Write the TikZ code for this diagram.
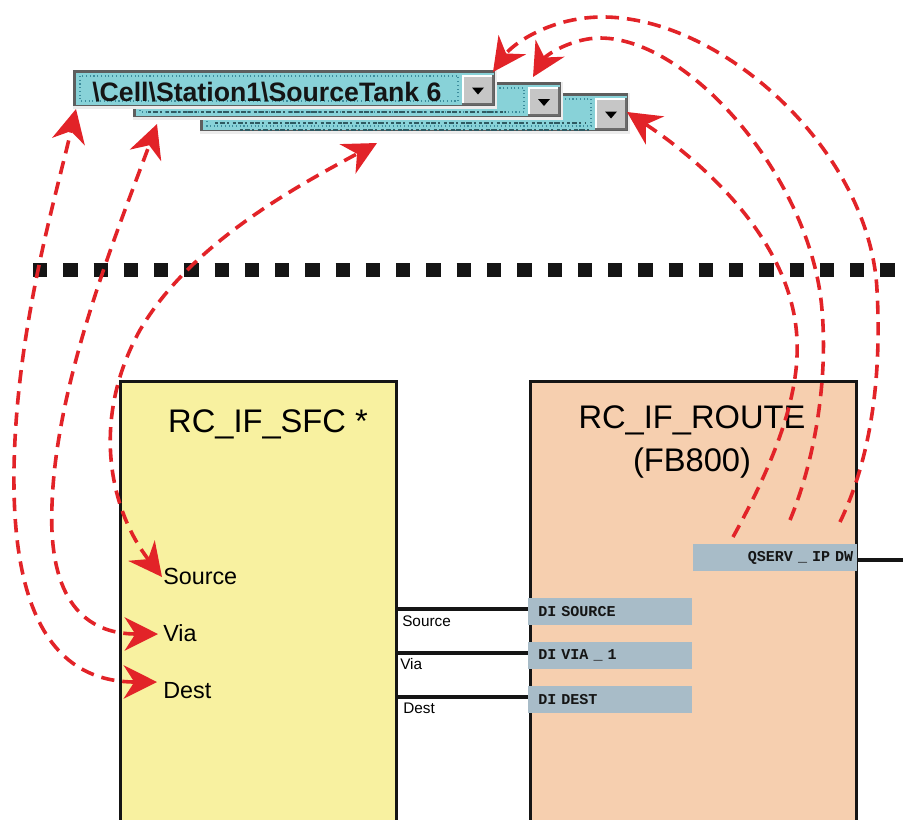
\documentclass[tikz,border=0pt]{standalone}
\usepackage{fontspec}
\setmainfont{Liberation Sans}
\newfontfamily\portfont{Liberation Mono}
\usetikzlibrary{arrows.meta}

\definecolor{linkred}{HTML}{E22328}
\definecolor{sfcfill}{HTML}{F8F1A0}
\definecolor{routefill}{HTML}{F6CFAF}
\definecolor{portblue}{HTML}{A8BCC8}
\definecolor{cyanfill}{HTML}{88D2D8}
\definecolor{bevdark}{HTML}{5E5E5E}
\definecolor{bevlight}{HTML}{ECECEC}
\definecolor{btnface}{HTML}{C6C6C6}
\definecolor{btnshade}{HTML}{6A6A6A}
\definecolor{focusblue}{HTML}{3C8C9C}
\definecolor{fragink}{HTML}{2F5A62}
\definecolor{inkblack}{HTML}{151515}

\tikzset{
  redhead/.tip={Stealth[length=25pt,width=25pt,inset=8pt]},
  link/.style={draw=linkred, line width=2.7pt, dash pattern=on 10pt off 6pt},
  fbbox/.style={draw=inkblack, line width=2.3pt, inner sep=0pt, anchor=north west},
  wire/.style={draw=inkblack, line width=3pt},
  portbox/.style={fill=portblue, inner ysep=0pt, minimum height=20.25pt,
    font=\portfont\bfseries\fontsize{11.3}{12}\selectfont, text=inkblack},
  bigtitle/.style={font=\fontsize{24.5}{28}\selectfont, anchor=base, inner sep=0pt},
  pinlabel/.style={font=\fontsize{17.5}{20}\selectfont, anchor=base west, inner sep=0pt},
  wirelabel/.style={font=\fontsize{11.5}{13}\selectfont, anchor=base west, inner sep=0pt},
  sepline/.style={draw=inkblack, line width=9.9pt, dash pattern=on 10.7pt off 12pt},
  frag/.style={draw=fragink, line width=1.6pt, dash pattern=on 2.5pt off 1.2pt on 4pt off 1.5pt on 1.5pt off 2.5pt},
}

% drop-down list box: left, top, right, bottom (in pixel units)
\newcommand\ddbox[4]{%
  \fill[bevlight] (#1,#2) rectangle (#3,#4);
  \fill[bevdark] (#1,#2) rectangle (#3-2,#4-3);
  \fill[cyanfill] (#1+3,#2+3) rectangle (#3-3,#4-4);
  \draw[focusblue, line width=0.8pt, dotted] (#1+7,#2+6) rectangle (#3-39,#4-8);
  \fill[btnshade] (#3-35,#2+5) rectangle (#3-3,#4-4);
  \fill[white] (#3-35,#2+5) rectangle (#3-5,#4-6);
  \fill[btnface] (#3-33,#2+7) rectangle (#3-5,#4-6);
  \fill[black] (#3-25,{(#2+#4)/2-2}) -- (#3-13,{(#2+#4)/2-2}) -- (#3-19,{(#2+#4)/2+5}) -- cycle;
}

\begin{document}
\begin{tikzpicture}[x=0.75pt,y=-0.75pt]
\useasboundingbox (0,0) rectangle (903,819);

% ---- stacked drop-down boxes (back to front) ----
\ddbox{200}{93}{630}{134}
\draw[frag] (215,123) -- (585,123);
\draw[frag] (240,130) -- (590,130);
\ddbox{133}{82}{563}{120}
\draw[frag] (148,112) -- (505,112);
\ddbox{73}{70}{497}{109}
\node[anchor=base west, inner sep=0pt, text=inkblack,
      font=\bfseries\fontsize{20}{22}\selectfont] (pathText) at (92,101)
      {\textbackslash Cell\textbackslash Station1\textbackslash SourceTank 6};

% ---- separator ----
\draw[sepline] (33,270) -- (895,270);

% ---- function blocks ----
\node[fbbox, fill=sfcfill, minimum width=207pt, minimum height=340pt] (sfc) at (119,380) {};
\node[fbbox, fill=routefill, minimum width=244.5pt, minimum height=340pt] (route) at (529,380) {};

\node[bigtitle] (sfcTitle) at (268,432) {RC\_IF\_SFC *};
\node[bigtitle] (routeTitle) at (692,428) {RC\_IF\_ROUTE};
\node[bigtitle] (routeSub) at (692,471) {(FB800)};

\node[pinlabel] (pinSource) at (163,584) {Source};
\node[pinlabel] (pinVia) at (163,641) {Via};
\node[pinlabel] (pinDest) at (163,698) {Dest};

% ---- ports ----
\node[portbox, anchor=north west, text width=108pt, inner xsep=7.5pt, align=left] (diSource) at (528,598) {DI SOURCE};
\node[portbox, anchor=north west, text width=108pt, inner xsep=7.5pt, align=left] (diVia) at (528,642) {DI VIA \_ 1};
\node[portbox, anchor=north west, text width=108pt, inner xsep=7.5pt, align=left] (diDest) at (528,686) {DI DEST};
\node[portbox, anchor=north west, text width=117pt, inner xsep=3pt, align=right] (qServ) at (693,544) {QSERV \_ IP DW};

% ---- wiring ----
\draw[wire] ([yshift=2pt]sfc.east |- diSource.west) -- ([yshift=2pt]diSource.west);
\draw[wire] ([yshift=2pt]sfc.east |- diVia.west) -- ([yshift=2pt]diVia.west);
\draw[wire] ([yshift=2pt]sfc.east |- diDest.west) -- ([yshift=2pt]diDest.west);
\coordinate (outEnd) at (903,560);
\draw[wire] (qServ.east |- outEnd) -- (outEnd);

\node[wirelabel] (wSource) at (402,626) {Source};
\node[wirelabel] (wVia) at (400,669) {Via};
\node[wirelabel] (wDest) at (403,713) {Dest};

% ---- red reference links ----
\coordinate (boxAfoot) at (76,109);
\coordinate (boxBfoot) at (157,124);
\coordinate (boxCfoot) at (377,143);
\coordinate (boxAbtn) at (493,72);
\coordinate (boxBbtn) at (533,77);
\coordinate (boxCbtn) at (627,112);
\coordinate (destIn) at (157,682);
\coordinate (viaIn) at (158,634);
\coordinate (srcIn) at (162,577);
\coordinate (qA) at (840,522);
\coordinate (qB) at (790,520);
\coordinate (qC) at (733,537);

\draw[link, arrows={redhead-redhead}] (destIn) .. controls (55,682) and (12,615) .. (14,470)
   .. controls (16,330) and (55,200) .. (boxAfoot);
\draw[link, arrows={redhead-redhead}] (viaIn) .. controls (85,634) and (48,600) .. (52,505)
   .. controls (56,380) and (118,230) .. (boxBfoot);
\draw[link, arrows={redhead-redhead}] (srcIn) .. controls (110,510) and (90,420) .. (140,330)
   .. controls (190,245) and (290,190) .. (boxCfoot);

\draw[link, arrows={-redhead}] (qA) .. controls (870,460) and (882,380) .. (877,290)
   .. controls (870,150) and (720,15) .. (600,17) .. controls (548,18) and (512,45) .. (boxAbtn);
\draw[link, arrows={-redhead}] (qB) .. controls (815,460) and (828,380) .. (822,310)
   .. controls (812,180) and (690,38) .. (600,38) .. controls (572,38) and (546,55) .. (boxBbtn);
\draw[link, arrows={-redhead}] (qC) .. controls (770,470) and (800,400) .. (797,340)
   .. controls (793,240) and (700,160) .. (boxCbtn);
\end{tikzpicture}
\end{document}
